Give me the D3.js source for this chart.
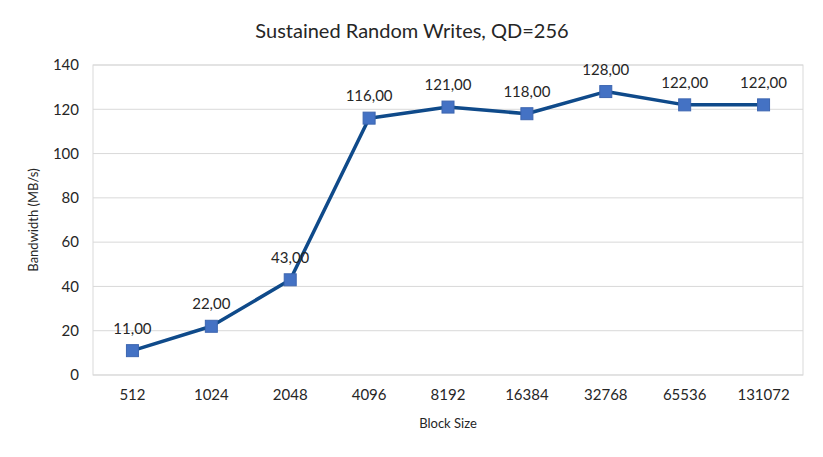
<!DOCTYPE html>
<html>
<head>
<meta charset="utf-8">
<script src="https://cdn.jsdelivr.net/npm/d3@7"></script>
<style>
  body { margin: 0; background: #fff; }
  text { font-family: Lato, "Open Sans", sans-serif; fill: #262626; }
</style>
</head>
<body>
<svg id="chart" width="823" height="457"></svg>
<script>
// data
var blockSizes = ["512", "1024", "2048", "4096", "8192", "16384", "32768", "65536", "131072"];
var bandwidth = [11, 22, 43, 116, 121, 118, 128, 122, 122];
var yTicks = [0, 20, 40, 60, 80, 100, 120, 140];

var svg = d3.select("#chart");
var plotL = 93, plotR = 803, plotT = 65, plotB = 375;

var x = d3.scaleBand().domain(blockSizes).range([plotL, plotR]);
var y = d3.scaleLinear().domain([0, 140]).range([plotB, plotT]);

// grid
svg.selectAll(".grid").data(yTicks).enter().append("line")
  .attr("x1", plotL).attr("x2", plotR)
  .attr("y1", function(d){ return y(d); }).attr("y2", function(d){ return y(d); })
  .attr("stroke", "#d9d9d9").attr("stroke-width", 1);
svg.append("rect").attr("x", plotL).attr("y", plotT)
  .attr("width", plotR - plotL).attr("height", plotB - plotT)
  .attr("fill", "none").attr("stroke", "#d9d9d9");

// axes
var yAxis = svg.append("g").attr("transform", "translate(" + plotL + ",0)")
  .call(d3.axisLeft(y).tickValues(yTicks).tickSize(0).tickPadding(14));
yAxis.select(".domain").remove();
yAxis.selectAll("text").style("font-size", "15px").attr("fill", "#262626");

var xAxis = svg.append("g").attr("transform", "translate(0," + plotB + ")")
  .call(d3.axisBottom(x).tickSize(0).tickPadding(14));
xAxis.select(".domain").remove();
xAxis.selectAll("text").style("font-size", "15px").attr("fill", "#262626");

// titles
svg.append("text").attr("x", 412).attr("y", 38).attr("text-anchor", "middle")
  .style("font-size", "20px").text("Sustained Random Writes, QD=256");
svg.append("text").attr("x", 448).attr("y", 428).attr("text-anchor", "middle")
  .style("font-size", "13px").text("Block Size");
svg.append("text").attr("transform", "translate(38," + ((plotT + plotB) / 2) + ") rotate(-90)")
  .attr("text-anchor", "middle").style("font-size", "13px").text("Bandwidth (MB/s)");

// line
var pts = blockSizes.map(function(b, i){ return { b: b, v: bandwidth[i] }; });
var line = d3.line()
  .x(function(d){ return x(d.b) + x.bandwidth() / 2; })
  .y(function(d){ return y(d.v); });
svg.append("path").datum(pts).attr("d", line)
  .attr("fill", "none").attr("stroke", "#0f4a8a").attr("stroke-width", 3.5)
  .attr("stroke-linejoin", "round");

svg.selectAll(".pt").data(pts).enter().append("rect")
  .attr("x", function(d){ return x(d.b) + x.bandwidth() / 2 - 6; })
  .attr("y", function(d){ return y(d.v) - 6; })
  .attr("width", 12).attr("height", 12)
  .attr("fill", "#4472c4").attr("stroke", "#3d66b0");

svg.selectAll(".lbl").data(pts).enter().append("text")
  .attr("x", function(d){ return x(d.b) + x.bandwidth() / 2; })
  .attr("y", function(d){ return y(d.v) - 17; })
  .attr("text-anchor", "middle").style("font-size", "15px")
  .text(function(d){ return d.v.toFixed(2).replace(".", ","); });
</script>
</body>
</html>
